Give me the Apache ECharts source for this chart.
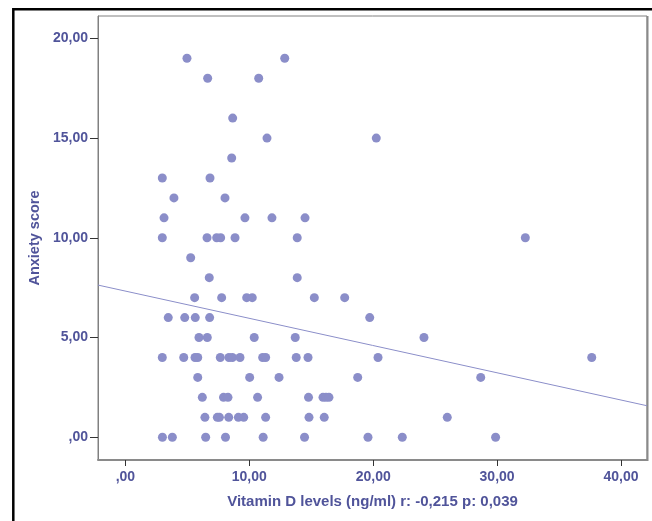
<!DOCTYPE html>
<html>
<head>
<meta charset="utf-8">
<script src="https://cdn.jsdelivr.net/npm/echarts@6/dist/echarts.min.js"></script>
<style>
  html, body { margin: 0; padding: 0; background: #fff; }
  #chart { width: 652px; height: 521px; }
</style>
</head>
<body>
<div id="chart"></div>
<script>
// vitamin D (x) and anxiety score (y), one pair per subject, grouped by score
var vitaminD = [
  4.97, 12.86,
  6.64, 10.76,
  8.66,
  11.43, 20.25,
  8.58,
  2.98, 6.83,
  3.92, 8.04,
  3.12, 9.65, 11.83, 14.5,
  2.98, 6.59, 7.37, 7.69, 8.85, 13.87, 32.28,
  5.27,
  6.77, 13.87,
  5.59, 7.77, 9.79, 10.24, 15.25, 17.70,
  3.46, 4.79, 5.64, 6.80, 19.72,
  5.94, 6.61, 10.40, 13.71, 24.10,
  2.98, 4.71, 5.62, 5.84, 7.66, 8.36, 8.63, 9.25, 11.08, 11.32, 13.79, 14.74, 20.39, 37.64,
  5.84, 10.03, 12.40, 18.75, 28.68,
  6.21, 7.92, 8.28, 10.67, 14.78, 15.95, 16.19, 16.43,
  6.42, 7.42, 7.59, 8.34, 9.12, 9.55, 11.32, 14.82, 16.05, 25.98,
  2.99, 3.79, 6.48, 8.08, 11.12, 14.46, 19.58, 22.35, 29.88
]
var anxiety = [
  19, 19,
  18, 18,
  16,
  15, 15,
  14,
  13, 13,
  12, 12,
  11, 11, 11, 11,
  10, 10, 10, 10, 10, 10, 10,
  9,
  8, 8,
  7, 7, 7, 7, 7, 7,
  6, 6, 6, 6, 6,
  5, 5, 5, 5, 5,
  4, 4, 4, 4, 4, 4, 4, 4, 4, 4, 4, 4, 4, 4,
  3, 3, 3, 3, 3,
  2, 2, 2, 2, 2, 2, 2, 2,
  1, 1, 1, 1, 1, 1, 1, 1, 1, 1,
  0, 0, 0, 0, 0, 0, 0, 0, 0
]

// fit line ends, read at the plot edges
var fitX = [-2.21, 42.1]
var fitY = [7.63, 1.58]

var xTicks = [0, 10, 20, 30, 40]
var xTickLabels = [',00', '10,00', '20,00', '30,00', '40,00']
var yTicks = [0, 5, 10, 15, 20]
var yTickLabels = [',00', '5,00', '10,00', '15,00', '20,00']

var textColor = '#50549a'
var dotColor = '#8b8ec9'
var font = '"Liberation Sans", Arial, sans-serif'

var points = vitaminD.map(function (v, i) { return [v, anxiety[i]] })
var fit = fitX.map(function (v, i) { return [v, fitY[i]] })

var myChart = echarts.init(document.getElementById('chart'))
myChart.setOption({
  animation: false,
  textStyle: { fontFamily: font },
  grid: {
    left: 98,
    top: 16,
    right: 5,
    bottom: 61,
    show: true,
    borderColor: '#808080',
    borderWidth: 1
  },
  graphic: [
    // outer black frame (only left and top visible)
    { type: 'polyline', shape: { points: [[13.3, 521], [13.3, 9.3], [652, 9.3]] }, style: { stroke: '#000', lineWidth: 2.5, fill: null } },
    { type: 'line', shape: { x1: 647.5, y1: 16, x2: 647.5, y2: 461 }, style: { stroke: '#8a8a8a', lineWidth: 2 } }
  ],
  xAxis: {
    type: 'value',
    min: fitX[0],
    max: fitX[1],
    name: 'Vitamin D levels (ng/ml) r: -0,215 p: 0,039',
    nameLocation: 'middle',
    nameGap: 34,
    nameTextStyle: { color: textColor, fontSize: 15, fontWeight: 'bold', fontFamily: font },
    splitLine: { show: false },
    axisLine: { show: true, onZero: false, lineStyle: { color: '#8a8a8a', width: 2 } },
    axisTick: { show: true, customValues: xTicks, length: 6, lineStyle: { color: '#333' } },
    axisLabel: {
      customValues: xTicks,
      margin: 10,
      color: textColor,
      fontSize: 14,
      fontWeight: 'bold',
      fontFamily: font,
      formatter: function (v) { return xTickLabels[xTicks.indexOf(v)] }
    }
  },
  yAxis: {
    type: 'value',
    min: -1.14,
    max: 21.12,
    name: 'Anxiety score',
    nameLocation: 'middle',
    nameRotate: 90,
    nameGap: 55,
    nameTextStyle: { color: textColor, fontSize: 14.5, fontWeight: 'bold', fontFamily: font },
    splitLine: { show: false },
    axisLine: { show: true, onZero: false, lineStyle: { color: '#808080', width: 1 } },
    axisTick: { show: true, customValues: yTicks, length: 8, lineStyle: { color: '#333' } },
    axisLabel: {
      customValues: yTicks,
      margin: 10,
      color: textColor,
      fontSize: 14,
      fontWeight: 'bold',
      fontFamily: font,
      formatter: function (v) { return yTickLabels[yTicks.indexOf(v)] }
    }
  },
  series: [
    {
      type: 'line',
      data: fit,
      symbol: 'none',
      silent: true,
      lineStyle: { color: dotColor, width: 1 },
      z: 1
    },
    {
      type: 'scatter',
      data: points,
      symbolSize: 9,
      itemStyle: { color: dotColor, opacity: 1 },
      z: 2
    }
  ]
})
window.onresize = function () {
  myChart.resize()
}
</script>
</body>
</html>
